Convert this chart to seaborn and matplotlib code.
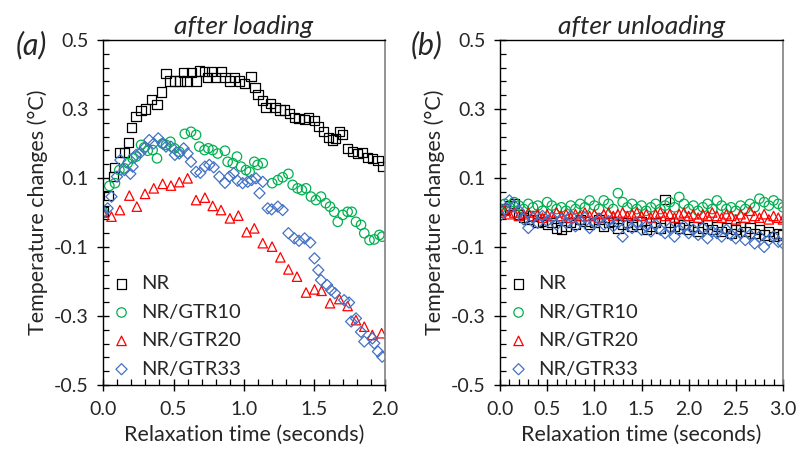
import numpy as np
import pandas as pd
import matplotlib
matplotlib.use("Agg")
import matplotlib.pyplot as plt
import seaborn as sns

# ---------------- data: panel (a) after loading ----------------
nr_a_t = [0.0, 0.04, 0.076, 0.08, 0.116, 0.151, 0.18, 0.20, 0.234, 0.27, 0.30, 0.345, 0.383,
          0.416, 0.447, 0.475, 0.51, 0.546, 0.57, 0.596, 0.629, 0.66, 0.683, 0.72, 0.74, 0.77,
          0.80, 0.84, 0.865, 0.896, 0.931, 0.967, 1.002, 1.05, 1.078, 1.10, 1.133, 1.156, 1.19,
          1.22, 1.255, 1.29, 1.32, 1.357, 1.39, 1.43, 1.46, 1.50, 1.53, 1.565, 1.60, 1.625,
          1.65, 1.676, 1.70, 1.735, 1.77, 1.806, 1.84, 1.877, 1.91, 1.95, 1.98]
nr_a_v = [0.002, 0.049, 0.104, 0.131, 0.174, 0.174, 0.203, 0.247, 0.278, 0.295, 0.30, 0.328, 0.312,
          0.349, 0.403, 0.381, 0.381, 0.381, 0.406, 0.381, 0.405, 0.381, 0.41, 0.408, 0.391, 0.408,
          0.391, 0.408, 0.391, 0.381, 0.391, 0.381, 0.374, 0.394, 0.363, 0.343, 0.324, 0.305, 0.316,
          0.305, 0.297, 0.297, 0.288, 0.276, 0.273, 0.27, 0.276, 0.266, 0.249, 0.234, 0.218, 0.21,
          0.215, 0.234, 0.225, 0.186, 0.176, 0.171, 0.173, 0.16, 0.157, 0.15, 0.133]

g10_a_t = [0.0, 0.045, 0.085, 0.116, 0.151, 0.175, 0.21, 0.234, 0.27, 0.293, 0.317, 0.352, 0.383,
           0.423, 0.447, 0.478, 0.506, 0.541, 0.58, 0.624, 0.66, 0.683, 0.72, 0.747, 0.778, 0.813,
           0.865, 0.884, 0.92, 0.95, 0.979, 1.014, 1.04, 1.073, 1.097, 1.133, 1.20, 1.24, 1.274,
           1.315, 1.345, 1.38, 1.41, 1.44, 1.475, 1.51, 1.546, 1.58, 1.61, 1.64, 1.665, 1.70,
           1.735, 1.764, 1.794, 1.83, 1.853, 1.89, 1.924, 1.96, 1.98]
g10_a_v = [0.002, 0.077, 0.085, 0.123, 0.128, 0.143, 0.157, 0.162, 0.196, 0.189, 0.179, 0.181, 0.157,
           0.20, 0.196, 0.205, 0.186, 0.176, 0.228, 0.234, 0.225, 0.191, 0.181, 0.186, 0.181, 0.171,
           0.179, 0.147, 0.143, 0.162, 0.133, 0.123, 0.118, 0.147, 0.138, 0.143, 0.085, 0.094, 0.102,
           0.112, 0.08, 0.07, 0.065, 0.07, 0.046, 0.036, 0.046, 0.027, 0.017, 0.002, -0.027, -0.007,
           0.002, 0.002, -0.027, -0.036, -0.06, -0.08, -0.078, -0.065, -0.07]

g20_a_t = [0.0, 0.06, 0.12, 0.187, 0.24, 0.298, 0.36, 0.423, 0.482, 0.541, 0.60, 0.66, 0.723,
           0.778, 0.837, 0.90, 0.96, 1.019, 1.073, 1.133, 1.199, 1.258, 1.315, 1.376, 1.44, 1.50,
           1.55, 1.61, 1.676, 1.735, 1.794, 1.853, 1.91, 1.976]
g20_a_v = [0.0, -0.012, 0.007, 0.049, 0.017, 0.054, 0.07, 0.083, 0.078, 0.088, 0.099, 0.036, 0.043,
           0.019, 0.007, -0.017, -0.009, -0.057, -0.046, -0.089, -0.099, -0.13, -0.165, -0.186,
           -0.232, -0.223, -0.227, -0.263, -0.251, -0.271, -0.312, -0.331, -0.355, -0.35]

g33_a_t = [0.0, 0.033, 0.06, 0.099, 0.123, 0.151, 0.194, 0.21, 0.234, 0.265, 0.293, 0.328, 0.36,
           0.392, 0.423, 0.447, 0.482, 0.51, 0.541, 0.572, 0.60, 0.624, 0.66, 0.69, 0.723, 0.754,
           0.785, 0.825, 0.865, 0.896, 0.927, 0.955, 0.99, 1.026, 1.054, 1.085, 1.11, 1.133, 1.168,
           1.196, 1.24, 1.274, 1.315, 1.357, 1.39, 1.43, 1.47, 1.50, 1.527, 1.546, 1.589, 1.617,
           1.645, 1.71, 1.745, 1.76, 1.794, 1.83, 1.853, 1.91, 1.924, 1.95, 1.98]
g33_a_v = [-0.002, 0.012, 0.046, 0.104, 0.152, 0.123, 0.112, 0.133, 0.167, 0.173, 0.186, 0.21, 0.20,
           0.215, 0.20, 0.191, 0.191, 0.167, 0.171, 0.186, 0.171, 0.147, 0.118, 0.115, 0.133, 0.138,
           0.131, 0.104, 0.086, 0.104, 0.114, 0.092, 0.085, 0.089, 0.094, 0.099, 0.056, 0.089, 0.012,
           0.009, 0.017, 0.007, -0.06, -0.075, -0.082, -0.075, -0.087, -0.133, -0.167, -0.196, -0.21,
           -0.225, -0.234, -0.254, -0.261, -0.316, -0.307, -0.346, -0.374, -0.365, -0.379, -0.403,
           -0.418]

# ---------------- data: panel (b) after unloading ----------------
t_b = [0.00, 0.05, 0.10, 0.15, 0.20, 0.25, 0.30, 0.35, 0.40, 0.45, 0.50, 0.55, 0.60, 0.65, 0.70,
       0.75, 0.80, 0.85, 0.90, 0.95, 1.00, 1.05, 1.10, 1.15, 1.20, 1.25, 1.30, 1.35, 1.40, 1.45,
       1.50, 1.55, 1.60, 1.65, 1.70, 1.75, 1.80, 1.85, 1.90, 1.95, 2.00, 2.05, 2.10, 2.15, 2.20,
       2.25, 2.30, 2.35, 2.40, 2.45, 2.50, 2.55, 2.60, 2.65, 2.70, 2.75, 2.80, 2.85, 2.90, 2.95,
       3.00]
nr_b = [0.005, 0.01, 0.02, 0.025, -0.005, -0.015, -0.02, -0.01, -0.03, -0.025, -0.035, -0.03,
        -0.045, -0.05, -0.04, -0.03, -0.035, -0.02, -0.025, -0.035, -0.03, -0.02, -0.04, -0.03,
        -0.025, -0.045, -0.035, -0.03, -0.04, -0.035, -0.025, -0.05, -0.04, -0.03, -0.045, 0.038,
        -0.03, -0.04, -0.045, -0.035, -0.05, -0.04, -0.055, -0.045, -0.035, -0.05, -0.04, -0.055,
        -0.045, -0.06, -0.05, -0.04, -0.055, -0.045, -0.06, -0.05, -0.065, -0.055, -0.07, -0.06,
        -0.065]
g10_b = [0.01, 0.025, 0.015, 0.03, 0.02, 0.01, 0.025, 0.015, 0.02, 0.005, 0.03, 0.02, 0.01, 0.015,
         0.005, 0.02, 0.01, 0.025, 0.015, 0.035, 0.02, 0.01, 0.035, 0.025, 0.01, 0.056, 0.03, 0.015,
         0.025, 0.01, 0.02, 0.005, 0.015, 0.025, 0.01, 0.02, 0.03, 0.015, 0.045, 0.025, 0.01, 0.02,
         0.005, 0.015, 0.025, 0.01, 0.035, 0.02, 0.01, 0.015, 0.005, 0.02, 0.01, 0.025, 0.015, 0.04,
         0.03, 0.02, 0.035, 0.025, 0.015]
g20_b = [0.0, 0.005, -0.005, 0.0, -0.01, -0.005, 0.0, -0.01, -0.005, -0.015, -0.005, -0.01, 0.0,
         -0.01, -0.005, -0.015, -0.005, -0.01, 0.0, -0.01, -0.005, -0.015, -0.005, 0.0, -0.01,
         -0.005, 0.0, -0.01, -0.005, 0.0, -0.01, -0.005, -0.015, -0.005, 0.0, -0.01, -0.005, -0.015,
         -0.005, 0.0, -0.01, -0.005, -0.015, -0.005, -0.01, 0.0, -0.01, -0.015, -0.005, -0.01, -0.02,
         -0.005, -0.015, 0.005, -0.01, -0.015, -0.005, -0.02, -0.01, -0.015, -0.02]
g33_b = [-0.01, 0.01, 0.035, 0.02, 0.005, -0.02, -0.045, -0.015, -0.03, -0.01, -0.025, -0.015,
         -0.035, -0.02, -0.03, -0.01, -0.04, -0.025, -0.015, -0.045, -0.03, -0.02, -0.035, -0.025,
         -0.04, -0.03, -0.07, -0.035, -0.045, -0.03, -0.05, -0.04, -0.055, -0.035, -0.05, -0.06,
         -0.045, -0.07, -0.05, -0.04, -0.06, -0.05, -0.065, -0.045, -0.075, -0.055, -0.06, -0.07,
         -0.05, -0.065, -0.075, -0.06, -0.08, -0.065, -0.09, -0.07, -0.1, -0.08, -0.07, -0.085,
         -0.09]

labels = ["NR", "NR/GTR10", "NR/GTR20", "NR/GTR33"]
colors = ["#000000", "#00B050", "#FF0000", "#4472C4"]
markers = ["s", "o", "^", "D"]
sizes = [44, 46, 46, 32]
y_ticks = [0.5, 0.3, 0.1, -0.1, -0.3, -0.5]

panel_a = [(nr_a_t, nr_a_v), (g10_a_t, g10_a_v), (g20_a_t, g20_a_v), (g33_a_t, g33_a_v)]
panel_b = [(t_b, nr_b), (t_b, g10_b), (t_b, g20_b), (t_b, g33_b)]

sns.set_style("ticks")
plt.rcParams["font.family"] = ["Lato", "DejaVu Sans"]

fig = plt.figure(figsize=(7.96, 4.59), dpi=100)
ax1 = fig.add_axes([103 / 796, 1 - 385 / 459, 282 / 796, 345 / 459])
ax2 = fig.add_axes([500 / 796, 1 - 385 / 459, 283 / 796, 345 / 459])


def draw(ax, series, xmax, xmajor, title, tag, tagx):
    for (tx, vy), lab, col, mk, sz in zip(series, labels, colors, markers, sizes):
        df = pd.DataFrame({"t": tx, "v": vy})
        sns.scatterplot(data=df, x="t", y="v", ax=ax, marker=mk, s=sz, label=lab,
                        color=col, linewidth=0.9, legend=False)
        coll = ax.collections[-1]
        coll.set_facecolor("none")
        coll.set_edgecolor(col)
        coll.set_linewidth(0.9)
    ax.set_xlim(0, xmax)
    ax.set_ylim(-0.5, 0.5)
    ax.set_xticks(np.arange(0, xmax + 1e-9, xmajor))
    ax.set_xticklabels([f"{v:.1f}" for v in np.arange(0, xmax + 1e-9, xmajor)])
    ax.set_xticks(np.arange(0, xmax + 1e-9, 0.1), minor=True)
    ax.set_yticks(y_ticks)
    ax.set_yticklabels([f"{v:.1f}" for v in y_ticks])
    ax.set_yticks(np.arange(-0.5, 0.5 + 1e-9, 0.04), minor=True)
    ax.tick_params(which="major", direction="inout", length=9, width=1.0, labelsize=14,
                   color="black")
    ax.tick_params(which="minor", direction="in", length=4, width=0.9, color="black")
    ax.tick_params(axis="x", which="major", pad=7)
    ax.tick_params(axis="y", which="major", pad=6)
    for s in ["left", "bottom", "top"]:
        ax.spines[s].set_visible(True)
        ax.spines[s].set_color("black")
        ax.spines[s].set_linewidth(1.0)
    ax.spines["right"].set_visible(True)
    ax.spines["right"].set_color("#808080")
    ax.spines["right"].set_linewidth(1.2)
    ax.set_xlabel("Relaxation time (seconds)", fontsize=15.5, labelpad=5)
    ax.set_ylabel("Temperature changes (°C)", fontsize=15.5, labelpad=4)
    ax.set_title(title, fontsize=19, style="italic", pad=4)
    ax.text(tagx, 0.985, tag, transform=ax.transAxes, fontsize=22, style="italic",
            ha="center", va="center")
    ax.legend(loc="upper left", bbox_to_anchor=(0.03, 0.318), frameon=False,
              fontsize=14.5, handlelength=1.0, handletextpad=0.45, labelspacing=0.56,
              borderaxespad=0, borderpad=0)


draw(ax1, panel_a, 2.0, 0.5, "after loading", "(a)", -0.255)
draw(ax2, panel_b, 3.0, 0.5, "after unloading", "(b)", -0.26)

fig.savefig("out.png", dpi=100)
